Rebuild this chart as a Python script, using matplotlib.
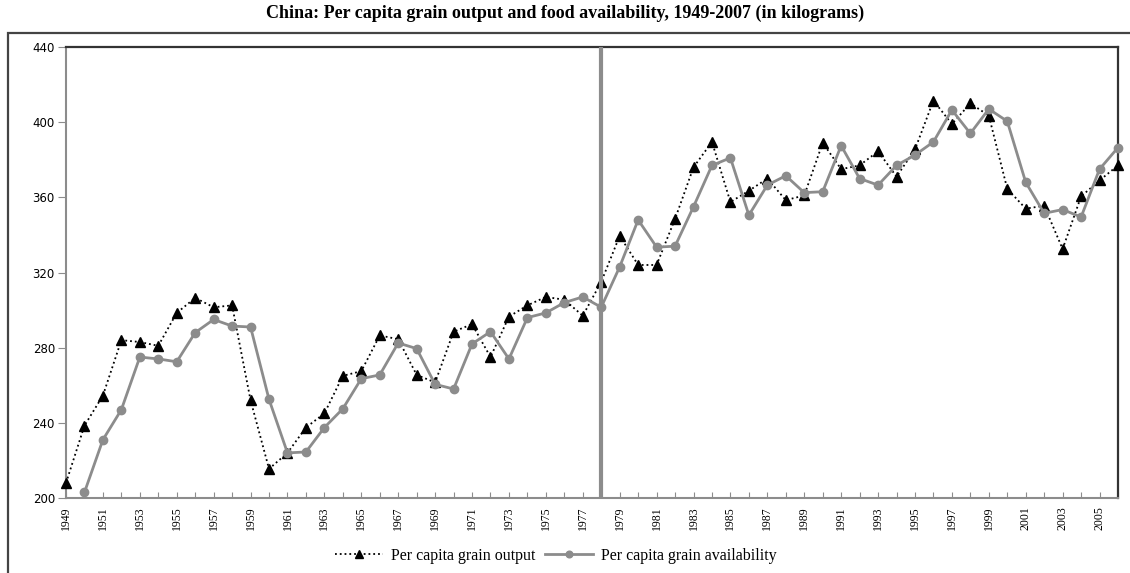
import numpy as np
import matplotlib
matplotlib.use("Agg")
import matplotlib.pyplot as plt
from matplotlib.patches import Rectangle

years = list(range(1949, 2007))
grain_output = [
    208, 238.5, 254.5, 284, 283, 281, 298.5, 306.5, 301.5, 302.5,
    252, 215.5, 224, 237.5, 245, 265, 267.5, 286.5, 284.5, 265.5,
    261.5, 288.5, 292.5, 275, 296.5, 302.5, 307, 305.5, 297, 315,
    339.5, 324, 324, 348.5, 376, 389.5, 357.5, 363.5, 370, 358.5,
    361, 389, 375, 377, 384.5, 371, 385.5, 411.5, 399, 410,
    403.5, 364.5, 354, 355.5, 332.5, 360.5, 369, 377,
]
grain_avail = [
    np.nan, 203, 231, 247, 275, 274, 272.5, 288, 295, 291.5,
    291, 252.5, 224, 224.5, 237.5, 247.5, 263.5, 265.5, 282.5, 279.5,
    260.5, 258, 282, 288.5, 274, 296, 298.5, 304, 307, 301.5,
    323, 348, 333.5, 334, 355, 377, 381, 350.5, 366.5, 371.5,
    362.5, 363, 387.5, 370, 366.5, 377, 382.5, 389.5, 406.5, 394,
    407, 400.5, 368, 351.5, 353.5, 349.5, 375, 386.5,
]
reform_year = 1978
y_ticks = [200, 240, 280, 320, 360, 400, 440]
x_labels = list(range(1949, 2006, 2))

serif = "Liberation Serif"
gray = "#8c8c8c"

fig = plt.figure(figsize=(11.3, 5.73), dpi=100)
ax = fig.add_axes([66 / 1130, 1 - 498 / 573, (1118 - 66) / 1130, (498 - 47) / 573])

# outer frame (only top and left show)
fig.add_artist(Rectangle((8 / 1130, -0.1), 1.2, 1.1 - 33 / 573,
                         transform=fig.transFigure, fill=False,
                         edgecolor="#444444", linewidth=1.6))

ax.plot(years, grain_output, linestyle=":", color="black", linewidth=1.3,
        marker="^", markersize=6.5, markerfacecolor="black",
        markeredgecolor="black", clip_on=False, zorder=3,
        label="Per capita grain output")
ax.axvline(reform_year, color=gray, linewidth=3, zorder=3.5)
ax.plot(years, grain_avail, linestyle="-", color=gray, linewidth=2,
        marker="o", markersize=6, markerfacecolor=gray,
        markeredgecolor=gray, clip_on=False, zorder=4,
        label="Per capita grain availability")

ax.set_xlim(1949, 2006)
ax.set_ylim(200, 440)
ax.set_yticks(y_ticks)
ax.set_xticks(years)
ax.set_xticklabels([str(y) if y in x_labels else "" for y in years],
                   rotation=90, family=serif, fontsize=8.5)
for lab in ax.get_yticklabels():
    lab.set_fontfamily("DejaVu Sans")
    lab.set_fontsize(8.5)

ax.tick_params(axis="y", direction="out", length=6, color=gray, pad=2)
ax.tick_params(axis="x", direction="in", length=4, color=gray, pad=6)

for side in ["left", "bottom"]:
    ax.spines[side].set_color(gray)
    ax.spines[side].set_linewidth(1.5)
for side in ["top", "right"]:
    ax.spines[side].set_color("#333333")
    ax.spines[side].set_linewidth(1.6)

fig.suptitle("China: Per capita grain output and food availability, 1949-2007 (in kilograms)",
             x=0.5, y=0.992, fontsize=13, fontweight="bold", family=serif, va="top")

fig.legend(loc="center", bbox_to_anchor=(0.492, 0.03), ncol=2, frameon=False,
           prop={"family": serif, "size": 11.5}, handlelength=3,
           columnspacing=0.6, handletextpad=0.5, markerscale=0.8)

fig.savefig("out.png", dpi=100)
